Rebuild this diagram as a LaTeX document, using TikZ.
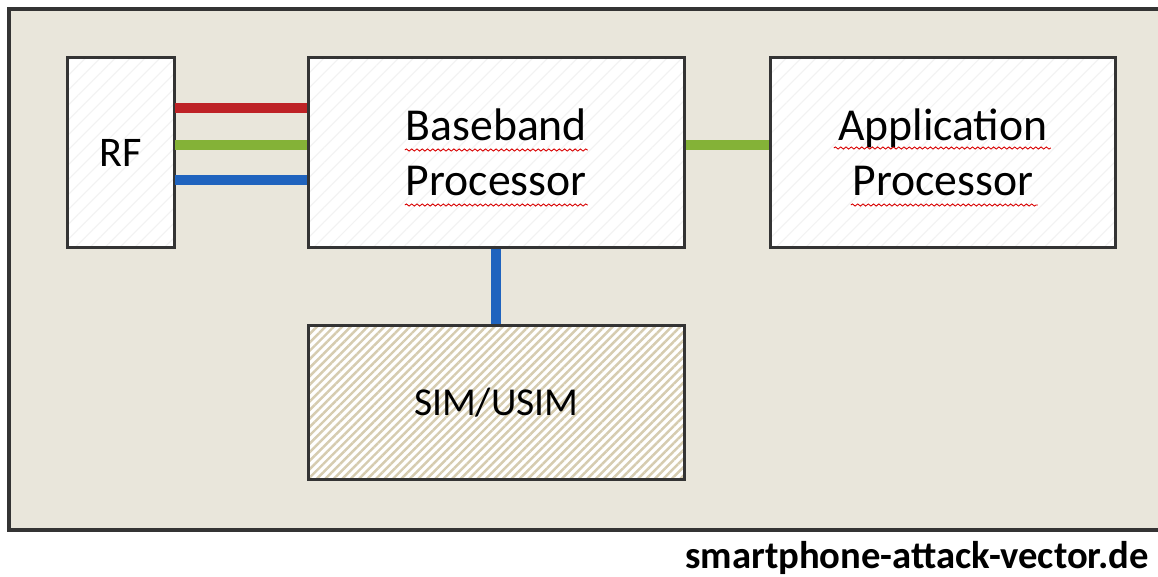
\documentclass[tikz,border=0pt]{standalone}
\usepackage{fontspec}
\setmainfont{Carlito}
\usetikzlibrary{positioning, patterns.meta, decorations.pathmorphing}
\definecolor{framegray}{RGB}{52, 52, 52}
\definecolor{paper}{RGB}{233, 230, 219}
\definecolor{hatchtan}{RGB}{214, 204, 176}
\definecolor{linkred}{RGB}{190, 34, 38}
\definecolor{linkgreen}{RGB}{132, 178, 55}
\definecolor{linkblue}{RGB}{31, 99, 190}

\begin{document}
\begin{tikzpicture}[
    node distance=1.5cm,
    box/.style={rectangle, draw=framegray, line width=2pt, preaction={fill=white},
                pattern={Lines[angle=45, distance=6pt, line width=0.6pt]}, pattern color=gray!10,
                minimum height=3.8cm, align=center, font=\fontsize{26}{31}\selectfont},
    link/.style={line width=5.7pt},
    spell/.style={red!85!black, line width=0.5pt, decorate,
                  decoration={snake, amplitude=0.6pt, segment length=3pt}}
]
\useasboundingbox (0,0) rectangle (23.16,-11.52);
% board outline
\draw[framegray, line width=2.4pt, fill=paper] (0.18,-0.18) rectangle (23.7,-10.6);

\node[box, minimum width=2.14cm, font=\fontsize{24}{29}\selectfont] (rf) at (2.42,-3.05) {RF};
\node[box, right=2.63cm of rf, minimum width=7.52cm] (baseband) {Baseband\\Processor};
\node[box, right=1.65cm of baseband, minimum width=6.9cm] (appproc) {Application\\Processor};
\node[box, below=of baseband, minimum width=7.52cm, minimum height=3.08cm,
      pattern={Lines[angle=45, distance=3.4pt, line width=1.4pt]}, pattern color=hatchtan,
      font=\fontsize{22.5}{27}\selectfont] (sim) {SIM/USIM};

% RF <-> baseband
\draw[link, linkred] ([yshift=0.89cm]rf.east) -- ([yshift=0.89cm]rf.east -| baseband.west);
\draw[link, linkgreen] ([yshift=0.15cm]rf.east) -- ([yshift=0.15cm]rf.east -| baseband.west);
\draw[link, linkblue] ([yshift=-0.55cm]rf.east) -- ([yshift=-0.55cm]rf.east -| baseband.west);
% baseband <-> application / SIM
\draw[link, linkgreen] ([yshift=0.15cm]baseband.east) -- ([yshift=0.15cm]baseband.east -| appproc.west);
\draw[link, linkblue] (baseband.south) -- (sim.north);

% spell checker marks
\draw[spell] ([shift={(-1.83,0.05)}]baseband.center) -- ([shift={(1.83,0.05)}]baseband.center);
\draw[spell] ([shift={(-1.83,-1.05)}]baseband.center) -- ([shift={(1.83,-1.05)}]baseband.center);
\draw[spell] ([shift={(-2.18,0.09)}]appproc.center) -- ([shift={(2.16,0.09)}]appproc.center);
\draw[spell] ([shift={(-1.84,-1.05)}]appproc.center) -- ([shift={(1.9,-1.05)}]appproc.center);

\node[anchor=base east, font=\bfseries\fontsize{22}{26}\selectfont] (site) at (23.1,-11.36) {smartphone-attack-vector.de};
\end{tikzpicture}
\end{document}
